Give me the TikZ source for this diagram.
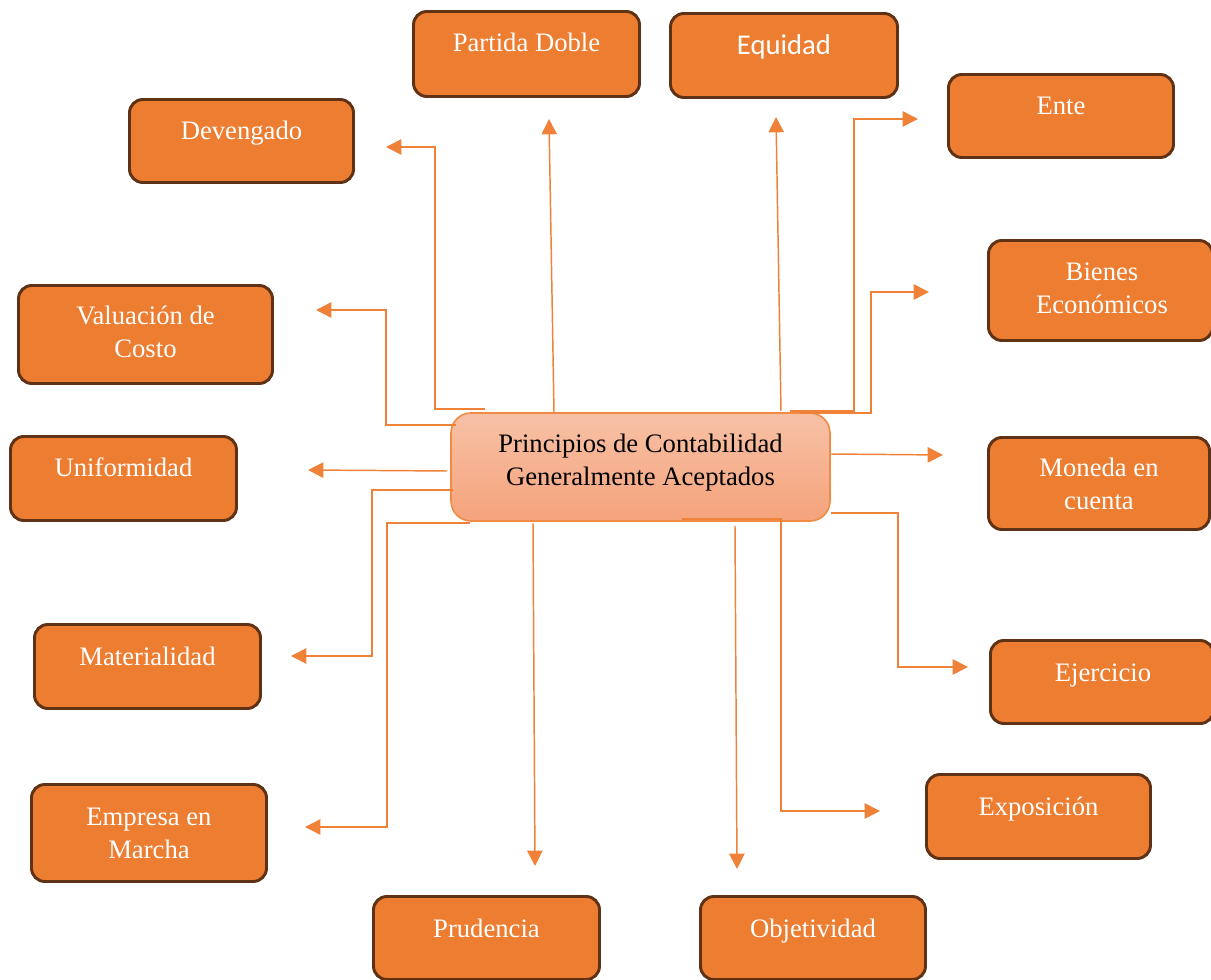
\documentclass[tikz,border=0pt]{standalone}
\usepackage{fontspec}
\setmainfont{Liberation Serif}
\newfontfamily\calibrifont{Carlito}
\usetikzlibrary{arrows.meta,calc}
\definecolor{org}{HTML}{ED7D31}
\definecolor{brd}{HTML}{5F3215}
\definecolor{lin}{HTML}{EF8238}
\definecolor{ctop}{HTML}{F7C1A6}
\definecolor{cbot}{HTML}{F5A37B}
\definecolor{cbrd}{HTML}{F08A45}
\newcommand\pbox[5]{%
  \node[box,minimum width={(#4-#2-3)*0.75pt},minimum height={(#5-#3-3)*0.75pt}] (#1) at ({(#2+#4)/2},{(#3+#5)/2}) {};}
\begin{document}
\begin{tikzpicture}[x=0.75pt,y=-0.75pt,
  box/.style={draw=brd,line width=2.2pt,fill=org,rounded corners=10pt,inner sep=0pt},
  lbl/.style={text=white,font=\fontsize{20}{24.75}\selectfont,align=flush center,text width=240pt,inner sep=0pt,anchor=base},
  conn/.style={draw=lin,line width=1.1pt,-{Triangle[length=11.5pt,width=11.5pt]}}]
\useasboundingbox (0,0) rectangle (1211,980);

% outer boxes
\pbox{pd}{412}{10}{641}{98}
\pbox{eq}{669}{12}{899}{99}
\pbox{en}{947}{73}{1175}{159}
\pbox{dv}{128}{98}{355}{184}
\pbox{vc}{17}{284}{274}{385}
\pbox{be}{987}{239}{1214}{342}
\pbox{un}{9}{435}{238}{522}
\pbox{mo}{987}{436}{1211}{531}
\pbox{ma}{33}{623}{262}{710}
\pbox{ej}{989}{639}{1215}{725}
\pbox{em}{30}{783}{268}{883}
\pbox{ex}{925}{773}{1152}{860}
\pbox{pr}{372}{895}{601}{981}
\pbox{ob}{699}{895}{927}{981}

% labels
\node[lbl] (tpd) at (526.5,52) {Partida Doble};
\node[lbl,font=\calibrifont\fontsize{21.5}{26}\selectfont] (teq) at (784,55) {Equidad};
\node[lbl] (ten) at (1061,115) {Ente};
\node[lbl] (tdv) at (241.5,140) {Devengado};
\node[lbl] (tvc) at (145.5,325) {Valuación de\\Costo};
\node[lbl] (tbe) at (1102,281) {Bienes\\Económicos};
\node[lbl] (tun) at (123.5,477) {Uniformidad};
\node[lbl] (tmo) at (1099,477) {Moneda en\\cuenta};
\node[lbl] (tma) at (147.5,665) {Materialidad};
\node[lbl] (tej) at (1103,681) {Ejercicio};
\node[lbl] (tem) at (149,825) {Empresa en\\Marcha};
\node[lbl] (tex) at (1038.5,815) {Exposición};
\node[lbl] (tpr) at (486.5,937) {Prudencia};
\node[lbl] (tob) at (813,937) {Objetividad};

% central box
\node[draw=cbrd,line width=1.2pt,top color=ctop,bottom color=cbot,rounded corners=15pt,
  minimum width={(381-2)*0.75pt},minimum height={(110-2)*0.75pt},inner sep=0pt] (c) at (640.5,467) {};
\node[lbl,text=black] (tc) at (640.5,453) {Principios de Contabilidad\\Generalmente Aceptados};

% connector coordinates
\coordinate (s1) at (554,412);  \coordinate (t1) at (549,119);
\coordinate (s2) at (781,411);  \coordinate (t2) at (776,117);
\coordinate (s3) at (790,411);  \coordinate (t3) at (918,119);
\coordinate (s4) at (800,413);  \coordinate (t4) at (929,292);
\coordinate (s5) at (485,409);  \coordinate (t5) at (386,147);
\coordinate (s6) at (456,425);  \coordinate (t6) at (316,310);
\coordinate (s7) at (447,471);  \coordinate (t7) at (308,470);
\coordinate (s8) at (453,490);  \coordinate (t8) at (291,656);
\coordinate (s9) at (470,523);  \coordinate (t9) at (305,827);
\coordinate (s10) at (533,523); \coordinate (t10) at (535,866);
\coordinate (s11) at (735,526); \coordinate (t11) at (737,869);
\coordinate (s12) at (682,519); \coordinate (t12) at (880,811);
\coordinate (s13) at (831,513); \coordinate (t13) at (968,667);
\coordinate (s14) at (831,454); \coordinate (t14) at (943,455);

% connectors
\draw[conn] (s1) -- (t1);
\draw[conn] (s2) -- (t2);
\draw[conn] (s3) -- (854,411) -- (854,119) -- (t3);
\draw[conn] (s4) -- (871,413) -- (871,292) -- (t4);
\draw[conn] (s5) -- (435,409) -- (435,147) -- (t5);
\draw[conn] (s6) -- (386,425) -- (386,310) -- (t6);
\draw[conn] (s7) -- (t7);
\draw[conn] (s8) -- (372,490) -- (372,656) -- (t8);
\draw[conn] (s9) -- (387,523) -- (387,827) -- (t9);
\draw[conn] (s10) -- (t10);
\draw[conn] (s11) -- (t11);
\draw[conn] (s12) -- (781,519) -- (781,811) -- (t12);
\draw[conn] (s13) -- (898,513) -- (898,667) -- (t13);
\draw[conn] (s14) -- (t14);
\end{tikzpicture}
\end{document}
